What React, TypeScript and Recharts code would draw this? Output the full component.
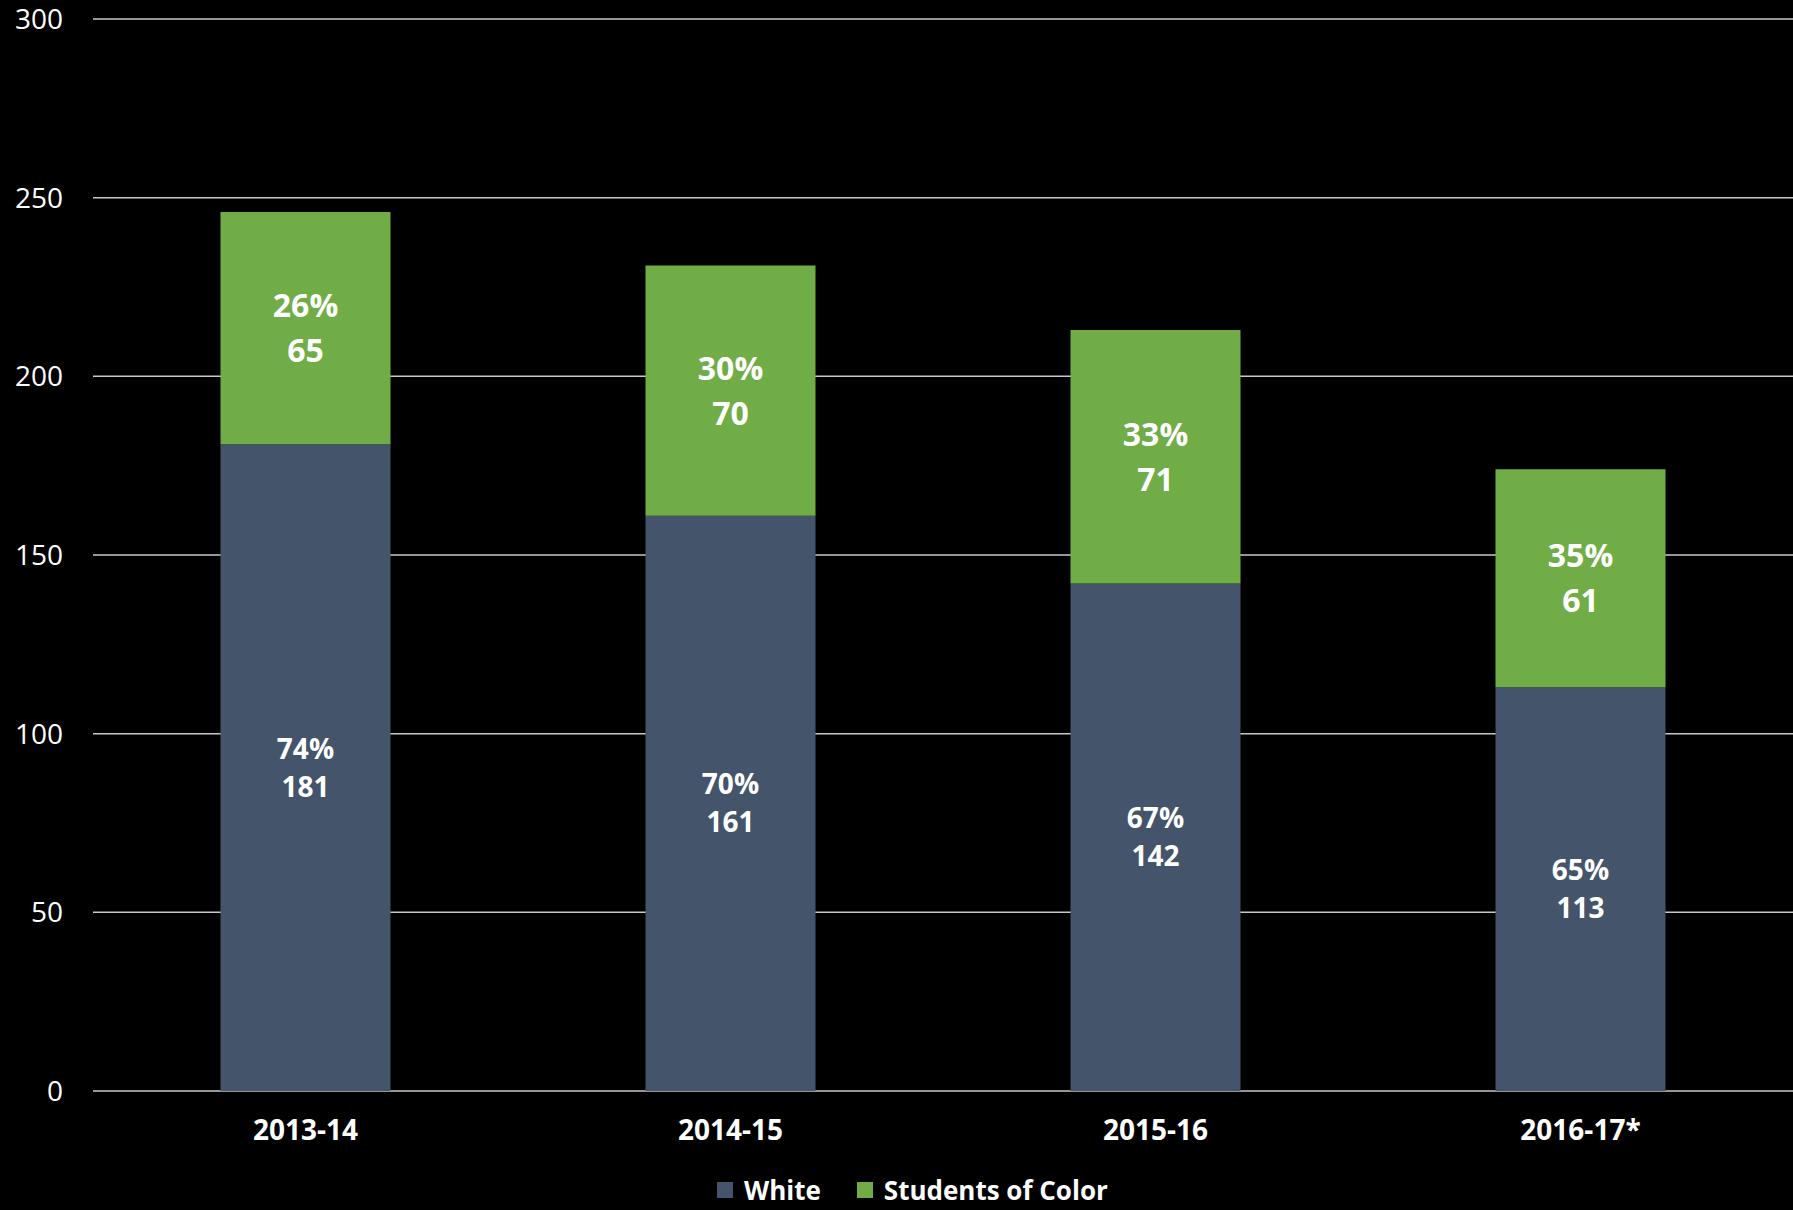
import { BarChart, Bar, XAxis, YAxis, CartesianGrid, LabelList } from 'recharts';

const years = ['2013-14', '2014-15', '2015-16', '2016-17*'];
const white = [181, 161, 142, 113];
const studentsOfColor = [65, 70, 71, 61];
const yTicks = [0, 50, 100, 150, 200, 250, 300];

const series = [
  { key: 'white', name: 'White', color: '#44546a' },
  { key: 'color', name: 'Students of Color', color: '#70ad47' },
];

const data = years.map((year, i) => ({
  year,
  white: white[i],
  color: studentsOfColor[i],
  total: white[i] + studentsOfColor[i],
}));

const font = '"Open Sans", "Noto Sans", sans-serif';

const makeLabel = (key: 'white' | 'color', fontSize: number, gap: number) => (props: any) => {
  const { x, y, width, height, index, value } = props;
  const pct = Math.round((value / data[index].total) * 100);
  const cx = x + width / 2;
  const mid = y + height / 2;
  const cap = fontSize * 0.36;
  return (
    <text
      key={`${key}-${index}`}
      textAnchor="middle"
      fill="#ffffff"
      fontFamily={font}
      fontWeight={700}
      fontSize={fontSize}
    >
      <tspan x={cx} y={mid - gap / 2 + cap}>{pct}%</tspan>
      <tspan x={cx} y={mid + gap / 2 + cap}>{value}</tspan>
    </text>
  );
};

export default function App() {
  return (
    <div
      style={{
        position: 'absolute',
        left: 0,
        top: 0,
        width: 1793,
        height: 1210,
        background: '#000000',
        overflow: 'hidden',
      }}
    >
      <BarChart
        width={1793}
        height={1210}
        data={data}
        margin={{ top: 19, right: 0, left: 0, bottom: 89 }}
        barCategoryGap="30%"
      >
        <CartesianGrid vertical={false} stroke="#c8c8c8" strokeWidth={1.5} />
        <XAxis
          dataKey="year"
          height={30}
          axisLine={false}
          tickLine={false}
          tickSize={0}
          tickMargin={29}
          tick={{ fill: '#ffffff', fontSize: 28, fontWeight: 700, fontFamily: font }}
        />
        <YAxis
          width={93}
          domain={[0, 300]}
          ticks={yTicks}
          axisLine={false}
          tickLine={false}
          tickSize={0}
          tickMargin={30}
          tick={{ fill: '#ffffff', fontSize: 28, fontFamily: font }}
        />
        <Bar dataKey="white" stackId="a" fill={series[0].color} isAnimationActive={false}>
          <LabelList dataKey="white" content={makeLabel('white', 28, 38)} />
        </Bar>
        <Bar dataKey="color" stackId="a" fill={series[1].color} isAnimationActive={false}>
          <LabelList dataKey="color" content={makeLabel('color', 32, 45)} />
        </Bar>
      </BarChart>
      <div
        style={{
          position: 'absolute',
          left: 717,
          top: 1177,
          display: 'flex',
          alignItems: 'center',
          gap: 36,
          fontFamily: font,
          fontWeight: 700,
          fontSize: 26,
          lineHeight: '26px',
          color: '#ffffff',
        }}
      >
        {series.map((s) => (
          <div key={s.key} style={{ display: 'flex', alignItems: 'center', gap: 11 }}>
            <span style={{ width: 16, height: 16, background: s.color, display: 'inline-block' }} />
            <span>{s.name}</span>
          </div>
        ))}
      </div>
    </div>
  );
}
